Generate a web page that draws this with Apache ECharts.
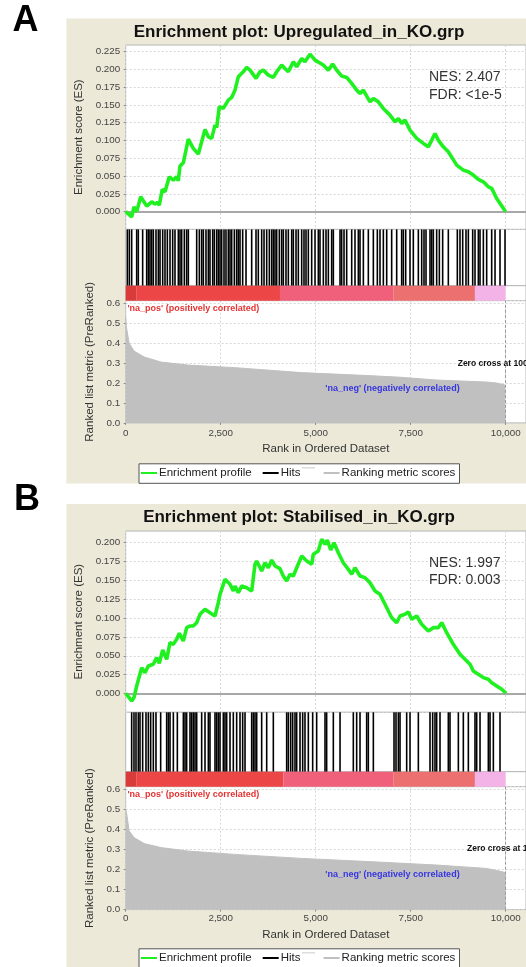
<!DOCTYPE html>
<html><head><meta charset="utf-8">
<script src="https://cdn.jsdelivr.net/npm/echarts@6/dist/echarts.min.js"></script>
<style>html,body{margin:0;padding:0;background:#fff}#c{width:526px;height:967px}</style>
</head><body><div id="c"></div>
<script>
// ---------------- DATA ----------------
const rankTickInterval = 2500;
const esTickInterval = 0.025;
const metricTickInterval = 0.1;

// Panel A : Upregulated_in_KO.grp   [rank, enrichment score]
const esA = [[0,0],[26,0.0],[158,-0.0073],[218,0.0067],[289,0.0],[395,0.0208],[553,0.0077],[684,0.0138],[771,0.0105],[832,0.0129],[884,0.0091],[963,0.0312],[1034,0.0278],[1147,0.0489],[1253,0.0442],[1342,0.0489],[1384,0.0433],[1429,0.0639],[1516,0.0685],[1647,0.1018],[1779,0.0888],[1911,0.0808],[2087,0.1154],[2174,0.1051],[2263,0.1028],[2350,0.1215],[2395,0.1182],[2463,0.1472],[2568,0.145],[2700,0.1566],[2789,0.1604],[2876,0.1706],[2963,0.1893],[3095,0.1964],[3184,0.2025],[3271,0.1987],[3429,0.1871],[3534,0.1964],[3621,0.1987],[3753,0.1917],[3884,0.1885],[3974,0.1964],[4105,0.2058],[4192,0.2011],[4279,0.1964],[4411,0.2104],[4500,0.2034],[4632,0.2152],[4718,0.2104],[4850,0.2212],[4982,0.2128],[5200,0.2058],[5332,0.1987],[5447,0.2072],[5553,0.1987],[5684,0.1903],[5816,0.1885],[5947,0.18],[6079,0.1706],[6166,0.166],[6253,0.1706],[6429,0.1542],[6516,0.159],[6647,0.1542],[6779,0.1449],[6955,0.1355],[7087,0.1261],[7174,0.1309],[7263,0.1239],[7350,0.1285],[7482,0.1145],[7658,0.1028],[7832,0.0958],[7963,0.091],[8053,0.1004],[8139,0.1098],[8226,0.1004],[8358,0.091],[8489,0.084],[8711,0.0653],[8884,0.0583],[9016,0.0559],[9147,0.0513],[9279,0.0452],[9411,0.0419],[9542,0.0348],[9632,0.0326],[9763,0.0185],[9982,0.0011],[10000,0]];
const hitsA = [43,96,157,289,332,446,552,596,639,683,727,797,859,903,973,1034,1096,1166,1236,1297,1385,1429,1473,1543,1604,1648,1868,1938,1999,2043,2113,2175,2218,2289,2332,2394,2438,2482,2525,2587,2639,2701,2745,2789,2859,2920,2964,3008,3078,3166,3315,3429,3490,3578,3640,3710,3780,3841,3885,3929,3973,4043,4104,4148,4218,4280,4368,4411,4482,4543,4631,4692,4745,4806,4894,4982,5069,5113,5201,5271,5333,5420,5464,5640,5683,5745,5815,5947,6034,6122,6166,6254,6385,6517,6622,6692,6780,6868,6999,7131,7262,7306,7368,7482,7569,7701,7789,7850,7903,8008,8052,8096,8183,8254,8341,8490,8727,8797,8868,8955,9017,9131,9192,9280,9324,9412,9499,9631,9719,9850,9982];
const metricA = [[0,0.53],[20,0.48],[90,0.40],[220,0.36],[490,0.33],[930,0.305],[1630,0.29],[2870,0.277],[4630,0.252],[6400,0.237],[7220,0.229],[8170,0.215],[9490,0.205],[9760,0.2],[9980,0.19],[10000,0.18]];
const colorBreaksA = [0,290,4060,7040,9190,10000];
const statsA = ['NES: 2.407','FDR: <1e-5'];
const titleA = 'Enrichment plot: Upregulated_in_KO.grp';

// Panel B : Stabilised_in_KO.grp
const esB = [[0,0],[26,-0.001],[158,-0.01],[218,-0.0055],[289,0.01],[421,0.0342],[508,0.0276],[595,0.0365],[726,0.0387],[816,0.0475],[884,0.04],[974,0.0577],[1079,0.0453],[1166,0.0674],[1253,0.0652],[1342,0.0719],[1411,0.0798],[1516,0.0696],[1605,0.0873],[1692,0.0895],[1779,0.0895],[1868,0.0939],[1955,0.105],[2087,0.1117],[2218,0.1071],[2350,0.1028],[2437,0.1204],[2482,0.1315],[2613,0.1514],[2745,0.1448],[2832,0.1359],[2876,0.1425],[2963,0.1337],[3053,0.1425],[3184,0.1403],[3316,0.1359],[3403,0.1713],[3447,0.1757],[3579,0.1624],[3666,0.1735],[3753,0.1668],[3842,0.177],[3929,0.1691],[4061,0.1655],[4147,0.1558],[4237,0.1492],[4324,0.1581],[4411,0.1558],[4500,0.1668],[4632,0.1823],[4763,0.1757],[4895,0.1713],[4937,0.1846],[5068,0.189],[5158,0.2045],[5245,0.1978],[5305,0.2035],[5395,0.1903],[5482,0.2],[5595,0.1867],[5726,0.1734],[5858,0.1647],[5947,0.1581],[6034,0.1668],[6166,0.1558],[6297,0.1536],[6429,0.1469],[6561,0.1359],[6692,0.1315],[6824,0.1183],[7000,0.1005],[7132,0.0939],[7218,0.1028],[7350,0.105],[7437,0.1081],[7526,0.0984],[7658,0.1028],[7789,0.0918],[7963,0.0829],[8095,0.0873],[8226,0.0873],[8316,0.0939],[8447,0.0806],[8621,0.0652],[8797,0.052],[8974,0.0431],[9061,0.0387],[9147,0.0298],[9279,0.0255],[9411,0.021],[9542,0.0188],[9632,0.0143],[9763,0.01],[9895,0.0056],[9982,0.0016],[10000,0]];
const hitsB = [157,218,271,332,376,446,534,596,657,727,797,920,1078,1122,1166,1254,1359,1517,1561,1604,1692,1736,1780,1824,1868,1999,2087,2175,2218,2350,2394,2438,2482,2569,2613,2657,2745,2832,2920,3008,3078,3140,3315,3359,3403,3447,3578,3710,3885,4236,4280,4341,4394,4455,4499,4587,4657,4718,4806,4920,5025,5245,5288,5464,5640,5990,6078,6166,6341,6385,6517,7061,7113,7175,7219,7394,7482,7701,8008,8078,8139,8183,8271,8490,8534,8754,8885,9017,9192,9236,9324,9543,9587,9675,9850];
const metricB = [[0,0.5],[28,0.478],[90,0.394],[220,0.36],[490,0.33],[930,0.31],[1630,0.293],[2870,0.276],[4630,0.256],[6400,0.24],[8170,0.223],[9490,0.206],[9900,0.19],[10000,0.184]];
const colorBreaksB = [0,290,4150,7040,9190,10000];
const statsB = ['NES: 1.997','FDR: 0.003'];
const titleB = 'Enrichment plot: Stabilised_in_KO.grp';

const legendNames = ['Enrichment profile','Hits','Ranking metric scores'];

// ---------------- STYLE / LAYOUT ----------------
const FONT = '"Liberation Sans", Arial, sans-serif';
const BEIGE = '#ece9d8';
const GREEN = '#1ff01f';
const METRIC_GREY = '#c0c0c0';
const barPalette = ['#d93a3a','#ec4646','#f1607a','#ec7070','#f3b3e6'];
const X0 = 125.7, XMAX = 10534;

const P = {
  A: {es:{top:45,h:184.4,max:0.234}, hits:{top:229.4,h:56.3}, bar:{top:285.7,h:15}, rank:{top:300.7,h:122.2,max:0.6125}, xMargin:5, xNameGap:20},
  B: {es:{top:531,h:181.3,max:0.2155}, hits:{top:712.3,h:59.4}, bar:{top:771.7,h:15}, rank:{top:786.7,h:122.9,max:0.6145}, xMargin:4, xNameGap:19}
};

const grids = [], xAxes = [], yAxes = [], series = [];
const tickStyle = {show:true, length:2, lineStyle:{color:'#888'}};
const splitStyle = {show:true, lineStyle:{color:'#d6d6d6', type:[2,2], width:1}};
const lblStyle = {fontSize:9.8, color:'#444', fontFamily:FONT};

function addPanel(p, es, hits, metric, breaks) {
  const gi = grids.length;
  const base = {left:X0, right:0, show:true, backgroundColor:'#fff', borderColor:'#b8b8b8', borderWidth:1};
  grids.push(Object.assign({top:p.es.top, height:p.es.h}, base));
  grids.push(Object.assign({top:p.hits.top, height:p.hits.h}, base));
  grids.push(Object.assign({top:p.bar.top, height:p.bar.h}, base));
  grids.push(Object.assign({top:p.rank.top, height:p.rank.h}, base));
  for (let k = 0; k < 4; k++) {
    const isRank = k === 3;
    xAxes.push({
      gridIndex: gi + k, type:'value', min:0, max:XMAX, interval:rankTickInterval,
      axisLine:{show:false},
      axisTick: isRank ? tickStyle : {show:false},
      axisLabel: isRank ? Object.assign({show:true, showMaxLabel:false, margin:p.xMargin,
        formatter: v => v.toLocaleString('en-US')}, lblStyle) : {show:false},
      splitLine: (k === 0 || k === 3) ? splitStyle : {show:false},
      name: isRank ? 'Rank in Ordered Dataset' : '',
      nameLocation:'middle', nameGap:p.xNameGap,
      nameTextStyle:{fontSize:11.5, color:'#333', fontFamily:FONT}
    });
  }
  yAxes.push({gridIndex:gi, type:'value', min:-esTickInterval, max:p.es.max, interval:esTickInterval,
    axisLine:{show:false}, axisTick:tickStyle, splitLine:splitStyle,
    axisLabel:Object.assign({showMinLabel:false, showMaxLabel:false, margin:5.5, formatter:v=>v.toFixed(3)}, lblStyle),
    name:'Enrichment score (ES)', nameLocation:'middle', nameGap:35.5,
    nameTextStyle:{fontSize:11.5, color:'#333', fontFamily:FONT}});
  yAxes.push({gridIndex:gi+1, type:'value', min:0, max:1, show:false});
  yAxes.push({gridIndex:gi+2, type:'value', min:0, max:1, show:false});
  yAxes.push({gridIndex:gi+3, type:'value', min:0, max:p.rank.max, interval:metricTickInterval,
    axisLine:{show:false}, axisTick:tickStyle, splitLine:splitStyle,
    axisLabel:Object.assign({showMaxLabel:false, margin:5.5, formatter:v=>v.toFixed(1)}, lblStyle),
    name:'Ranked list metric (PreRanked)', nameLocation:'middle', nameGap:24.5,
    nameTextStyle:{fontSize:11.5, color:'#333', fontFamily:FONT}});

  series.push({
    name:legendNames[0], type:'line', xAxisIndex:gi, yAxisIndex:gi, data:es,
    showSymbol:false, symbol:'none', color:GREEN, lineStyle:{color:GREEN, width:3.6}, z:5, silent:true,
    markLine:{silent:true, symbol:'none', label:{show:false}, lineStyle:{color:'#a8a8a8', width:2, type:'solid'}, data:[{yAxis:0}]}
  });
  series.push({
    name:legendNames[1], type:'custom', xAxisIndex:gi+1, yAxisIndex:gi+1,
    data:hits.map(r => [r, 1]), encode:{x:0, y:1}, itemStyle:{color:'#000'}, silent:true,
    renderItem:(params, api) => {
      const a = api.coord([api.value(0), 0]), b = api.coord([api.value(0), 1]);
      return {type:'line', shape:{x1:a[0], y1:a[1], x2:b[0], y2:b[1]}, style:{stroke:'#000', lineWidth:1.6}};
    }
  });
  const segs = [];
  for (let i = 0; i < breaks.length - 1; i++) segs.push([breaks[i], breaks[i+1], i]);
  series.push({
    name:'colour bar', type:'custom', xAxisIndex:gi+2, yAxisIndex:gi+2, data:segs, encode:{x:[0,1]}, silent:true,
    renderItem:(params, api) => {
      const a = api.coord([api.value(0), 1]), b = api.coord([api.value(1), 0]);
      return {type:'rect', shape:{x:a[0], y:a[1], width:b[0]-a[0], height:b[1]-a[1]}, style:{fill:barPalette[api.value(2)]}};
    }
  });
  series.push({
    name:legendNames[2], type:'line', xAxisIndex:gi+3, yAxisIndex:gi+3, data:metric,
    showSymbol:false, symbol:'none', color:METRIC_GREY, lineStyle:{color:METRIC_GREY, width:1},
    areaStyle:{color:METRIC_GREY, opacity:1}, silent:true,
    markLine:{silent:true, symbol:'none', label:{show:false}, lineStyle:{color:'#9a9a9a', width:1, type:[3,2]}, data:[{xAxis:10000}]}
  });
}
addPanel(P.A, esA, hitsA, metricA, colorBreaksA);
addPanel(P.B, esB, hitsB, metricB, colorBreaksB);

function legends(top) {
  const common = {orient:'horizontal', padding:0, itemWidth:16, itemHeight:2, icon:'rect', selectedMode:false,
    textStyle:{fontSize:11.5, color:'#222', fontFamily:FONT, padding:[0,0,0,-3]}};
  return [
    Object.assign({left:141, top:top, itemGap:11, data:[legendNames[0], legendNames[1]]}, common),
    Object.assign({left:323.6, top:top, data:[legendNames[2]]}, common)
  ];
}

function txt(x, y, text, font, color, align) {
  return {type:'text', x:x, y:y, z:20, silent:true,
    style:{text:text, font:font, fill:color, align:align || 'left', verticalAlign:'middle'}};
}

const graphics = [
  {type:'rect', shape:{x:66.4, y:18.4, width:460, height:465}, style:{fill:BEIGE}, z:-10, silent:true},
  {type:'rect', shape:{x:66.4, y:504, width:460, height:463}, style:{fill:BEIGE}, z:-10, silent:true},
  {type:'rect', shape:{x:139, y:463.8, width:320.5, height:19.5}, style:{fill:'#fff', stroke:'#555', lineWidth:1}, z:1, silent:true},
  {type:'rect', shape:{x:139, y:948.8, width:320.5, height:19.5}, style:{fill:'#fff', stroke:'#555', lineWidth:1}, z:1, silent:true},
  {type:'line', shape:{x1:302, y1:467.8, x2:315, y2:467.8}, style:{stroke:'#dcdcdc', lineWidth:1.5}, z:2, silent:true},
  {type:'line', shape:{x1:302, y1:952.8, x2:315, y2:952.8}, style:{stroke:'#dcdcdc', lineWidth:1.5}, z:2, silent:true},
  txt(25.5, 21, 'A', 'bold 36px ' + FONT, '#000', 'center'),
  txt(27, 500, 'B', 'bold 36px ' + FONT, '#000', 'center'),
  txt(299, 32, titleA, 'bold 17px ' + FONT, '#111', 'center'),
  txt(299, 517, titleB, 'bold 17px ' + FONT, '#111', 'center'),
  txt(429, 77, statsA[0], '14px ' + FONT, '#333'),
  txt(429, 95, statsA[1], '14px ' + FONT, '#333'),
  txt(429, 563, statsB[0], '14px ' + FONT, '#333'),
  txt(429, 580.5, statsB[1], '14px ' + FONT, '#333'),
  txt(127.4, 309, "'na_pos' (positively correlated)", 'bold 9px ' + FONT, '#e53232'),
  txt(127.4, 794.6, "'na_pos' (positively correlated)", 'bold 9px ' + FONT, '#e53232'),
  txt(325.3, 388.7, "'na_neg' (negatively correlated)", 'bold 9px ' + FONT, '#3535e0'),
  txt(325.3, 875, "'na_neg' (negatively correlated)", 'bold 9px ' + FONT, '#3535e0'),
  txt(457.7, 363.2, 'Zero cross at 10000', 'bold 8.5px ' + FONT, '#111'),
  txt(467, 848.6, 'Zero cross at 10000', 'bold 8.5px ' + FONT, '#111')
];

const chart = echarts.init(document.getElementById('c'), null, {renderer:'canvas', width:526, height:967});
chart.setOption({
  animation:false,
  backgroundColor:'#fff',
  grid:grids, xAxis:xAxes, yAxis:yAxes, series:series,
  legend:legends(467).concat(legends(952)),
  graphic:graphics
});
</script></body></html>
